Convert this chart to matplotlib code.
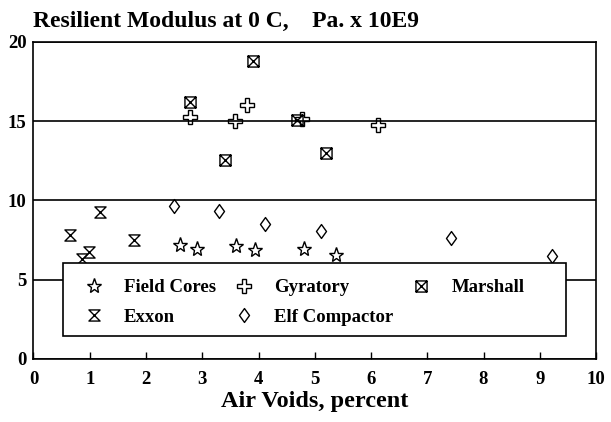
import numpy as np
import matplotlib
matplotlib.use("Agg")
import matplotlib.pyplot as plt
from matplotlib.path import Path
from matplotlib.patches import Rectangle

# data
field_x = [2.61, 2.90, 3.60, 3.94, 4.80, 5.38]
field_y = [7.17, 6.96, 7.11, 6.90, 6.96, 6.54]

gyr_x = [2.78, 3.59, 3.79, 4.77, 6.12]
gyr_y = [15.28, 14.99, 16.04, 15.14, 14.78]

marsh_x = [2.78, 3.40, 3.90, 4.68, 5.20]
marsh_y = [16.23, 12.52, 18.76, 15.08, 12.97]

exxon_x = [0.65, 0.86, 0.98, 1.18, 1.78]
exxon_y = [7.80, 6.33, 6.75, 9.26, 7.48]

elf_x = [2.50, 3.30, 4.11, 5.11, 7.42, 9.22]
elf_y = [9.64, 9.31, 8.49, 8.05, 7.63, 6.48]

xticks = list(range(0, 11))
yticks = [0, 5, 10, 15, 20]

plt.rcParams['font.family'] = ['Liberation Serif', 'DejaVu Serif']
plt.rcParams['font.weight'] = 'bold'

# boxed x, hourglass and diamond markers
box_x = Path([(-1, -1), (1, -1), (1, 1), (-1, 1), (-1, -1),
              (-1, -1), (1, 1), (-1, 1), (1, -1)],
             [Path.MOVETO, Path.LINETO, Path.LINETO, Path.LINETO, Path.CLOSEPOLY,
              Path.MOVETO, Path.LINETO, Path.MOVETO, Path.LINETO])
hourglass = Path([(-1, 1), (1, 1), (-1, -1), (1, -1), (-1, 1)],
                 [Path.MOVETO, Path.LINETO, Path.LINETO, Path.LINETO, Path.CLOSEPOLY])
diamond = Path([(0, 1), (0.72, 0), (0, -1), (-0.72, 0), (0, 1)],
               [Path.MOVETO, Path.LINETO, Path.LINETO, Path.LINETO, Path.CLOSEPOLY])

fig = plt.figure(figsize=(6.11, 4.22), dpi=100)
ax = fig.add_axes([0.0548, 0.1493, 0.9207, 0.7519])

kw = dict(linestyle='none', color='black', markerfacecolor='none', markeredgewidth=1.0)
ax.plot(field_x, field_y, marker='*', markersize=11, label='Field Cores', **kw)
ax.plot(exxon_x, exxon_y, marker=hourglass, markersize=8, label='Exxon', **kw)
ax.plot(gyr_x, gyr_y, marker='P', markersize=9.5, label='Gyratory', **kw)
ax.plot(elf_x, elf_y, marker=diamond, markersize=10, label='Elf Compactor', **kw)
ax.plot(marsh_x, marsh_y, marker=box_x, markersize=8, label='Marshall', **kw)

ax.set_xlim(0, 10)
ax.set_ylim(0, 20)
ax.set_xticks(xticks)
ax.set_yticks(yticks)
ax.tick_params(axis='x', direction='in', length=5, width=1, pad=9, labelsize=13.5)
ax.tick_params(axis='y', length=0, pad=5, labelsize=13.5)
ax.grid(axis='y', color='black', linewidth=1.2)
ax.set_axisbelow(True)
for s in ax.spines.values():
    s.set_linewidth(1.2)

# legend box drawn as a plain rectangle, entries placed inside it
box = Rectangle((0.053, 0.072), 0.894, 0.231, transform=ax.transAxes,
                facecolor='white', edgecolor='black', linewidth=1.2, zorder=4)
ax.add_patch(box)
leg = ax.legend(ncol=3, loc='upper left', bbox_to_anchor=(0.053, 0.303),
                frameon=False, fontsize=13.5, labelspacing=0.66, borderpad=0.87,
                handletextpad=0.85, handlelength=1.5, columnspacing=0.75,
                borderaxespad=0)
leg.set_zorder(5)

fig.text(0.054, 0.9367, 'Resilient Modulus at 0 C,    Pa. x 10E9', fontsize=17,
         fontweight='bold', va='baseline', ha='left')
fig.text(0.5156, 0.049, 'Air Voids, percent', fontsize=17.5, fontweight='bold',
         ha='center', va='center')

fig.savefig('out.png', dpi=100)
